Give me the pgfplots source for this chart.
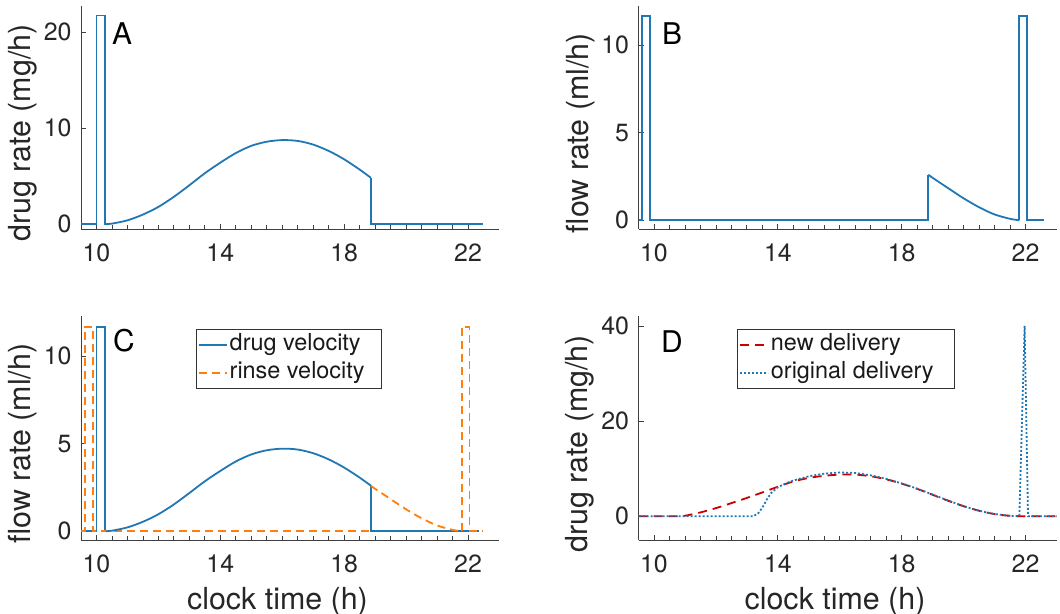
\documentclass[border=0pt]{standalone}
\usepackage{fontspec}
\setmainfont{TeX Gyre Heros}
\usepackage{pgfplots}
\pgfplotsset{compat=1.18}
\definecolor{mblue}{HTML}{1F77B4}
\definecolor{morange}{HTML}{FF7F0E}
\definecolor{mred}{HTML}{CC0000}
\definecolor{axc}{HTML}{404040}
\definecolor{txt}{HTML}{262626}

\pgfplotsset{
  mstyle/.style={
    scale only axis, width=418bp, anchor=south west,
    xmin=9.5, xmax=23,
    axis x line*=bottom, axis y line*=left,
    axis line style={draw=axc, line width=0.8bp},
    tick align=inside,
    xtick={10,14,18,22}, minor x tick num=7,
    major tick length=5bp, minor tick length=4bp,
    every tick/.style={axc, line width=0.8bp},
    tick label style={font=\fontsize{25}{30}\selectfont, color=txt},
    label style={font=\fontsize{30.5}{36}\selectfont, color=txt},
    /pgf/number format/assume math mode=true,
    xticklabel style={yshift=-11bp},
    yticklabel style={xshift=-6bp},
    ylabel style={at={(ticklabel cs:0.43)}},
    xlabel style={at={(ticklabel cs:0.47)}, yshift=-8bp},
    legend image code/.code={\draw[#1] (0bp,0bp) -- (28bp,0bp);},
    legend cell align=left,
    legend style={draw=black!80, line width=0.8bp, fill=white,
      font=\fontsize{23.5}{28}\selectfont, text=black!90,
      inner xsep=2bp, inner ysep=2bp, row sep=1bp,
      nodes={inner sep=2bp, text height=17bp, text depth=6bp}},
  },
  drug/.style={mblue, line width=1.8bp},
  rinse/.style={morange, line width=1.8bp, dash pattern=on 8bp off 5bp},
  newd/.style={mred, line width=1.8bp, dash pattern=on 9bp off 6bp},
  origd/.style={mblue, line width=1.8bp, dash pattern=on 2bp off 2bp},
}

\begin{document}
\begin{tikzpicture}[x=1bp,y=1bp]
\path[use as bounding box] (0,0) rectangle (1060,614);

% A: drug rate
\begin{axis}[mstyle, at={(81bp,385bp)}, height=223bp,
  ymin=-0.5, ymax=22.7, ytick={0,10,20}, ylabel={drug rate (mg/h)}]
\addplot[drug] coordinates {(9.5,0) (10,0) (10,21.7) (10.27,21.7) (10.27,0) (10.3,0)};
\addplot[drug, smooth] coordinates {(10.3,0) (10.5,0.06) (11,0.4) (11.5,1.0) (12,1.8) (12.5,2.85) (13,4.05) (13.5,5.3) (14,6.4) (14.5,7.4) (15,8.15) (15.5,8.58) (16,8.75) (16.5,8.66) (17,8.28) (17.5,7.62) (18,6.75) (18.5,5.68) (18.86,4.83)};
\addplot[drug] coordinates {(18.86,4.83) (18.86,0) (22.48,0)};
\end{axis}

% B: rinse flow rate
\begin{axis}[mstyle, at={(638.5bp,385bp)}, height=223bp,
  ymin=-0.5, ymax=12.23, ytick={0,5,10}, ylabel={flow rate (ml/h)}]
\addplot[drug] coordinates {(9.5,0) (9.62,0) (9.62,11.67) (9.88,11.67) (9.88,0) (18.86,0) (18.86,2.6)};
\addplot[drug, smooth] coordinates {(18.86,2.6) (19,2.42) (19.5,1.83) (20,1.25) (20.5,0.74) (21,0.33) (21.5,0.08) (21.8,0)};
\addplot[drug] coordinates {(21.8,0) (21.8,11.67) (22.05,11.67) (22.05,0) (22.6,0)};
\end{axis}

% C: velocities
\begin{axis}[mstyle, at={(81bp,74bp)}, height=224bp,
  ymin=-0.5, ymax=12.28, ytick={0,5,10}, ylabel={flow rate (ml/h)}, xlabel={clock time (h)},
  legend style={at={(0.274,0.941)}, anchor=north west}]
\addplot[drug] coordinates {(9.5,0) (10,0) (10,11.67) (10.27,11.67) (10.27,0) (10.3,0)};
\addlegendentry{drug velocity\hspace*{17bp}}
\addplot[rinse] coordinates {(9.5,0) (9.62,0) (9.62,11.67) (9.88,11.67) (9.88,0) (18.86,0) (18.86,2.6)};
\addlegendentry{rinse velocity}
\addplot[drug, smooth, forget plot] coordinates {(10.3,0) (10.5,0.03) (11,0.22) (11.5,0.54) (12,0.97) (12.5,1.53) (13,2.18) (13.5,2.85) (14,3.44) (14.5,3.98) (15,4.38) (15.5,4.62) (16,4.71) (16.5,4.66) (17,4.45) (17.5,4.1) (18,3.63) (18.5,3.06) (18.86,2.6)};
\addplot[drug, forget plot] coordinates {(18.86,2.6) (18.86,0) (22.35,0)};
\addplot[rinse, smooth, forget plot] coordinates {(18.86,2.6) (19,2.42) (19.5,1.83) (20,1.25) (20.5,0.74) (21,0.33) (21.5,0.08) (21.8,0)};
\addplot[rinse, forget plot] coordinates {(21.8,0) (21.8,11.67) (22.05,11.67) (22.05,0) (22.48,0)};
\end{axis}

% D: delivery
\begin{axis}[mstyle, at={(638.5bp,74bp)}, height=224bp,
  ymin=-5, ymax=42.1, ytick={0,20,40}, ylabel={drug rate (mg/h)}, xlabel={clock time (h)},
  legend style={at={(0.235,0.941)}, anchor=north west}]
\addplot[newd, smooth] coordinates {(9.5,0) (10.7,0) (11,0.1) (11.5,0.8) (12,1.7) (12.5,2.75) (13,3.85) (13.5,5.0) (14,6.2) (14.5,7.3) (15,8.05) (15.5,8.5) (16,8.75) (16.5,8.75) (17,8.4) (17.5,7.75) (18,6.85) (18.5,5.75) (19,4.5) (19.5,3.25) (20,2.1) (20.5,1.15) (21,0.45) (21.5,0.08) (22,0) (23,0)};
\addlegendentry{new delivery}
\addplot[origd] coordinates {(9.5,0) (13.2,0) (13.35,0.5) (13.5,1.8) (13.65,3.6) (13.8,5.0) (14,6.1) (14.25,6.9) (14.5,7.5) (15,8.4) (15.5,8.95) (16,9.2) (16.5,9.1) (17,8.6) (17.5,7.85) (18,6.9) (18.5,5.8) (19,4.55) (19.5,3.3) (20,2.1) (20.5,1.15) (21,0.45) (21.5,0.08) (21.8,0) (21.97,40) (22.08,0) (23,0)};
\addlegendentry{original delivery\hspace*{17bp}}
\end{axis}

\node[anchor=base west, inner sep=0, font=\fontsize{30}{34}\selectfont] at (112,569) {A};
\node[anchor=base west, inner sep=0, font=\fontsize{30}{34}\selectfont] at (662,569) {B};
\node[anchor=base west, inner sep=0, font=\fontsize{30}{34}\selectfont] at (113,262) {C};
\node[anchor=base west, inner sep=0, font=\fontsize{30}{34}\selectfont] at (661,261) {D};
\end{tikzpicture}
\end{document}
